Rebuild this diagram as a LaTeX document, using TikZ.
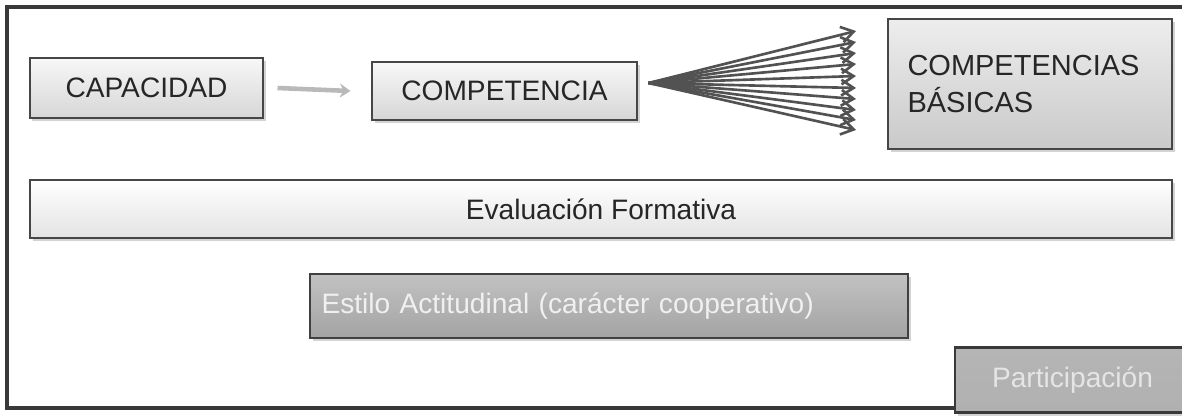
\documentclass[tikz,border=0pt]{standalone}
\usepackage{fontspec}
\setmainfont{Liberation Sans}
\usetikzlibrary{arrows.meta,shadows,positioning}
\tikzstyle{lightbox} = [rectangle, draw=gray!55!black, line width=0.6pt, top color=gray!6, bottom color=gray!32, drop shadow={shadow xshift=0.05cm, shadow yshift=-0.06cm, opacity=0.35}, font=\fontsize{16}{21}\selectfont, text=black!85]
\tikzstyle{darkbox} = [rectangle, draw=gray!50!black, line width=0.6pt, top color=gray!48, bottom color=gray!72, drop shadow={shadow xshift=0.05cm, shadow yshift=-0.06cm, opacity=0.35}, font=\fontsize{16}{21}\selectfont, text=white!88!gray]
\tikzstyle{arrow} = [line width=2.6pt, draw=gray!55, -{Stealth[length=6pt,width=8pt]}]
\tikzstyle{fanarrow} = [line width=1.5pt, draw=gray!30!black!80, -{Straight Barb[length=7pt,width=9pt]}]

\begin{document}
\begin{tikzpicture}
\useasboundingbox (0,0) rectangle (23.64,-8.3);
%marco
\draw[gray!45!black, line width=2pt] (23.64,-0.14) -- (0.14,-0.14) -- (0.14,-8.16) -- (19.2,-8.16);

%cajas
\node (cap) [lightbox, minimum width=4.66cm, minimum height=1.2cm] at (2.93,-1.76) {CAPACIDAD};
\node (comp) [lightbox, minimum width=5.3cm, minimum height=1.16cm] at (10.09,-1.82) {COMPETENCIA};
\node (basic) [lightbox, top color=gray!14, bottom color=gray!42, minimum width=5.68cm, minimum height=2.6cm, text width=4.9cm, inner xsep=0.39cm, align=left, font=\fontsize{16.5}{21}\selectfont] at (20.6,-1.68) {COMPETENCIAS\\BÁSICAS};
\node (eval) [lightbox, top color=white, bottom color=gray!22, minimum width=22.84cm, minimum height=1.16cm] at (12.02,-4.18) {Evaluación Formativa};
\node (estilo) [darkbox, minimum width=11.96cm, minimum height=1.28cm, text width=11.5cm, inner xsep=0.23cm, align=left] at (12.18,-6.12) {Estilo Actitudinal (carácter cooperativo)};
\node (part) [darkbox, drop shadow={opacity=0}, top color=gray!58, bottom color=gray!62, draw=gray!45!black, line width=1.2pt, minimum width=4.7cm, minimum height=1.3cm, text=white!80!gray] at (21.45,-7.6) {Participación};

%flechas
\draw [arrow] ([xshift=0.28cm]cap.east) -- ([xshift=-0.42cm]comp.west);
\coordinate (fan) at ([xshift=0.22cm, yshift=0.16cm]comp.east);
\foreach \i/\y in {1/-0.62,2/-0.84,3/-1.06,4/-1.28,5/-1.52,6/-1.76,7/-1.98,8/-2.2,9/-2.4,10/-2.6}{
  \coordinate (t\i) at (17.12,\y);
  \draw [fanarrow] (fan) -- (t\i);
}
\end{tikzpicture}
\end{document}
